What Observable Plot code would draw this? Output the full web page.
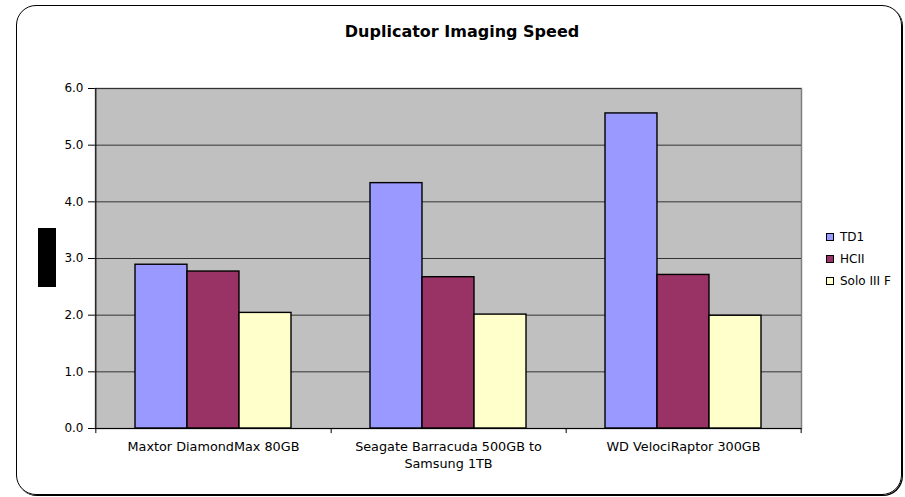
<!DOCTYPE html>
<html>
<head>
<meta charset="utf-8">
<script src="https://cdn.jsdelivr.net/npm/d3@7"></script>
<script src="https://cdn.jsdelivr.net/npm/@observablehq/plot@0.6"></script>
<style>
  html, body { margin: 0; padding: 0; background: #fff; }
  #wrap { position: relative; width: 905px; height: 497px; overflow: hidden; font-family: "DejaVu Sans", sans-serif; }
  #border { position: absolute; left: 16px; top: 5px; width: 884px; height: 488px; border: 1.5px solid #000; border-radius: 20px; box-shadow: 1px 1px 0 #000; }
  #title { position: absolute; left: 0; width: 924px; top: 22px; text-align: center; font-weight: bold; font-size: 16px; color: #000; }
  #chart { position: absolute; left: 0; top: 0; }
  #redact { position: absolute; left: 38px; top: 228px; width: 18px; height: 59px; background: #000; }
  #legend { position: absolute; left: 826px; top: 226px; font-size: 12px; color: #000; }
  .item { display: flex; align-items: center; height: 22px; }
  .sw { width: 6px; height: 6px; border: 1px solid #000; margin-right: 6px; }
</style>
</head>
<body>
<div id="wrap">
  <div id="border"></div>
  <div id="title">Duplicator Imaging Speed</div>
  <div id="chart"></div>
  <div id="redact"></div>
  <div id="legend"></div>
</div>
<script>
const categories = ["Maxtor DiamondMax 80GB", "Seagate Barracuda 500GB to\nSamsung 1TB", "WD VelociRaptor 300GB"];
const series = ["TD1", "HCII", "Solo III F"];
const colors = ["#9999FF", "#993366", "#FFFFCC"];
const td1 = [2.89, 4.33, 5.56];
const hcii = [2.77, 2.67, 2.71];
const solo = [2.04, 2.01, 1.99];
const yTicks = [0, 1, 2, 3, 4, 5, 6];

const seriesValues = [td1, hcii, solo];
const rows = [];
series.forEach((s, si) => categories.forEach((c, ci) => rows.push({category: c, series: s, si, value: seriesValues[si][ci]})));

const W = 905, H = 497;
const mL = 95, mR = 104, mT = 88, mB = 69;
const pInner = 0.337;
const step = (W - mL - mR) / categories.length;
const bw = step * (1 - pInner);
const barW = bw / series.length;

const barMarks = series.map((s, si) => Plot.barY(rows.filter(r => r.si === si), {
  x: "category", y: "value", fill: colors[si], stroke: "#000", strokeWidth: 1.4,
  insetLeft: barW * si, insetRight: barW * (series.length - 1 - si)
}));

const plot = Plot.plot({
  width: W, height: H,
  marginLeft: mL, marginRight: mR, marginTop: mT, marginBottom: mB,
  style: {fontFamily: "DejaVu Sans, sans-serif", fontSize: "12px", color: "#000", background: "transparent", overflow: "visible"},
  x: {domain: categories, paddingInner: pInner, paddingOuter: pInner / 2, axis: null},
  y: {domain: [0, 6], ticks: yTicks, tickFormat: d3.format(".1f"), tickSize: 7, tickPadding: 5, label: null},
  marks: [
    Plot.frame({fill: "#C0C0C0", stroke: "#808080", strokeWidth: 1.5}),
    Plot.ruleY(yTicks.slice(1), {stroke: "#333", strokeWidth: 1}),
    ...barMarks,
    Plot.ruleX([0], {x: () => categories[0], dx: -step / 2, y1: 0, y2: 6, stroke: "#000"}),
    Plot.ruleY([0], {stroke: "#000", strokeWidth: 1}),
    Plot.ruleX(categories, {x: d => d, dx: step / 2, y1: 0, y2: -0.09, stroke: "#000"}),
    Plot.ruleX([categories[0]], {x: d => d, dx: -step / 2, y1: 0, y2: -0.09, stroke: "#000"}),
    Plot.text(categories, {x: d => d, y: 0, dy: 11, text: d => d, lineAnchor: "top", lineHeight: 1.3, fontSize: 12.8, fill: "#000"})
  ]
});
document.getElementById("chart").appendChild(plot);

const legend = document.getElementById("legend");
series.forEach((s, i) => {
  const it = document.createElement("div");
  it.className = "item";
  it.innerHTML = `<div class="sw" style="background:${colors[i]}"></div><span>${s}</span>`;
  legend.appendChild(it);
});
</script>
</body>
</html>
